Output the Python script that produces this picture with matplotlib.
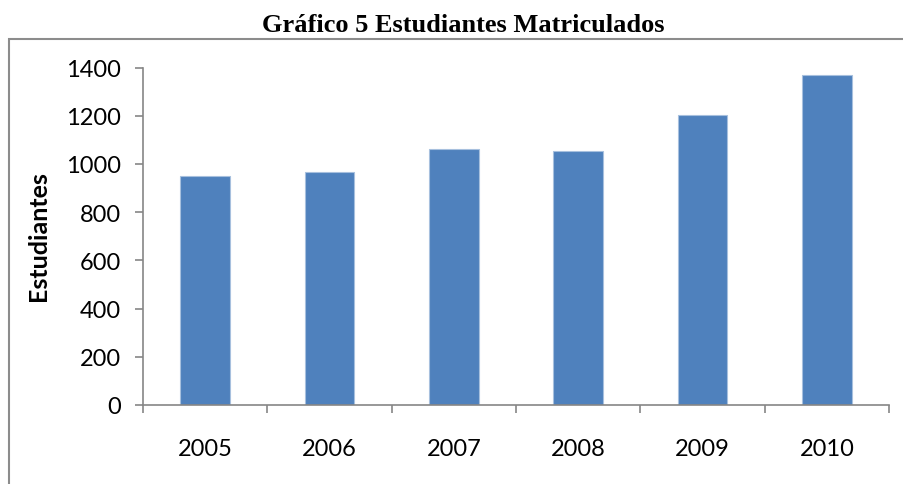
import matplotlib
matplotlib.use("Agg")
import matplotlib.pyplot as plt
from matplotlib.patches import Rectangle
import numpy as np

years = ["2005", "2006", "2007", "2008", "2009", "2010"]
estudiantes = [950, 968, 1061, 1055, 1201, 1370]
yticks = [0, 200, 400, 600, 800, 1000, 1200, 1400]

W, H = 904, 485
fig = plt.figure(figsize=(W / 100, H / 100), dpi=100)

# outer chart frame
frame = Rectangle((9 / W, -0.05), (W + 20) / W, 1 - 39.5 / H + 0.05,
                  transform=fig.transFigure, fill=False,
                  edgecolor="#8c8c8c", linewidth=1.5, zorder=0)
fig.patches.append(frame)

left, right = 143 / W, 889 / W
bottom, top = 1 - 406 / H, 1 - 68.5 / H
ax = fig.add_axes([left, bottom, right - left, top - bottom])

x = np.arange(len(years))
ax.bar(x, estudiantes, width=0.4, color="#4F81BD", edgecolor="#A7C0DE",
       linewidth=0.8, zorder=2)

ax.set_xlim(-0.5, len(years) - 0.5)
ax.set_ylim(0, 1400)
ax.set_yticks(yticks)
ax.set_yticklabels([str(v) for v in yticks], fontfamily="Lato", fontsize=17)
ax.set_xticks(x)
ax.set_xticklabels(years, fontfamily="Lato", fontsize=17)
ax.set_xticks(np.arange(-0.5, len(years)), minor=True)
ax.tick_params(axis="x", which="major", length=0, pad=24)
ax.tick_params(axis="x", which="minor", length=6, width=1.2, color="#868686",
               direction="out")
ax.tick_params(axis="y", length=6, width=1.2, color="#868686",
               direction="out", pad=10)

for s in ["top", "right"]:
    ax.spines[s].set_visible(False)
for s in ["left", "bottom"]:
    ax.spines[s].set_color("#868686")
    ax.spines[s].set_linewidth(1.2)

fig.text(38 / W, 1 - 236 / H, "Estudiantes", rotation=90, ha="center",
         va="center", fontfamily="Lato", fontweight="bold", fontsize=18)

fig.text(463 / W, 1 - 25 / H, "Gráfico 5 Estudiantes Matriculados",
         ha="center", va="center", fontfamily="Liberation Serif",
         fontweight="bold", fontsize=19)

fig.savefig("out.png", dpi=100)
